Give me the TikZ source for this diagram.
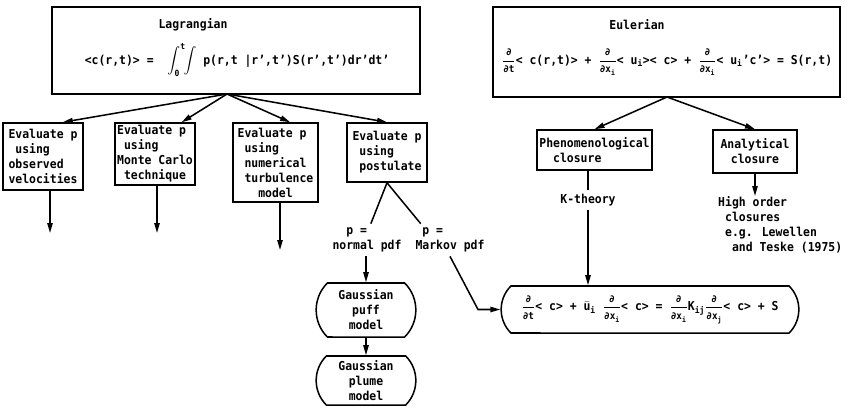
\documentclass[tikz,border=0pt]{standalone}
\usepackage{amsmath}
\usepackage{fontspec}
\setmainfont{DejaVu Sans Mono}[FakeStretch=0.93]
\usetikzlibrary{positioning, calc, arrows.meta, shapes.misc}

\newcommand{\dfr}[1]{$\dfrac{\text{\fontsize{8.5}{9}\selectfont ∂}}{\text{\fontsize{8.5}{9}\selectfont ∂#1}}$}
\newcommand{\sbs}[1]{$_{\text{#1}}$}

\begin{document}
\begin{tikzpicture}[x=0.03cm, y=-0.03cm,
    every node/.style={font=\bfseries\fontsize{10.5}{12.8}\selectfont},
    box/.style={draw, line width=1.3pt, inner sep=1pt},
    pill/.style={draw, line width=1.3pt, rounded rectangle, rounded rectangle arc length=90, inner sep=1pt},
    arr/.style={-{Triangle[length=3mm, width=1.6mm]}, line width=1.3pt},
    ln/.style={line width=1.3pt}]
    \useasboundingbox (0,0) rectangle (847,409);

    % 1. Hai hộp chính (Lagrangian, Eulerian)
    \node[box, minimum width=11.04cm, minimum height=2.61cm] (lag) at (236,50.5) {};
    \node (lagtitle) at (193,25) {Lagrangian};
    \node (lageq) at (237,60) {<c(r,t)> = \ $\displaystyle\int_{\text{0}}^{\text{t}}\!\!\int$ p(r,t~|r',t')S(r',t')dr'dt'};
    \coordinate (lagapex) at (227,94);

    \node[box, minimum width=10.41cm, minimum height=2.7cm] (eul) at (666.5,52) {};
    \node (eultitle) at (637,25) {Eulerian};
    \node (euleq) at (667,62) {\dfr{t}< c(r,t)> + \dfr{x\sbs{i}}< u\sbs{i}>< c> + \dfr{x\sbs{i}}< u\sbs{i}'c'> = S(r,t)};
    \coordinate (eulapex) at (667,97);

    % 2. Các hộp "Evaluate p"
    \node[box, align=left, minimum width=2.4cm, minimum height=2.01cm] (ev1) at (43,156.5)
        {Evaluate p\\\phantom{x}using\\observed\\velocities};
    \node[box, align=left, minimum width=2.4cm, minimum height=1.86cm] (ev2) at (155,154)
        {Evaluate p\\\phantom{x}using\\Monte Carlo\\\phantom{x}technique};
    \node[box, align=left, minimum width=2.55cm, minimum height=2.37cm] (ev3) at (275.5,162.5)
        {Evaluate p\\\phantom{x}using\\\phantom{x}numerical\\\phantom{x}turbulence\\\phantom{xxx}model};
    \node[box, align=left, minimum width=2.4cm, minimum height=1.77cm] (ev4) at (387,152.5)
        {Evaluate p\\\phantom{x}using\\\phantom{x}postulate};

    \foreach \b/\a in {ev1/60, ev2/50, ev3/70, ev4/north}
        \draw[arr] (lagapex) -- (\b.\a);

    % mũi tên xuống (không có đích)
    \coordinate (e1) at (50,233);
    \coordinate (e2) at (157,233);
    \coordinate (e3) at (280,250);
    \foreach \b/\e in {ev1/e1, ev2/e2, ev3/e3}
        \draw[arr] (\b.south -| \e) -- (\e);

    % 3. Nhánh postulate
    \node[align=left] (nrm) at (367,240) {\phantom{xx}p =\\normal pdf};
    \node[align=left] (mkv) at (450,240) {\phantom{x}p =\\Markov pdf};
    \draw[ln] (ev4.south) -- ($(nrm.north west)!0.55!(nrm.north east)$);
    \draw[ln] (ev4.south) -- ($(mkv.north west)!0.12!(mkv.north east)$);

    \node[pill, align=center, minimum width=3.06cm, minimum height=1.62cm] (puff) at (366,310)
        {Gaussian\\puff\\model};
    \node[pill, align=center, minimum width=3.06cm, minimum height=1.47cm] (plume) at (366,380.5)
        {Gaussian\\plume\\model};
    \draw[arr] (nrm.south -| puff) -- (puff.north);
    \draw[arr] (puff.south) -- (plume.north);

    % 4. Phương trình K-theory
    \node[pill, minimum width=9cm, minimum height=1.41cm] (eq) at (650,309.5)
        {\dfr{t}< c> + $\bar{\text{u}}$\sbs{i} \dfr{x\sbs{i}}< c> = \dfr{x\sbs{i}}K\sbs{ij}\dfr{x\sbs{j}}< c> + S};
    \coordinate (mbend) at (478,309.5);
    \draw[arr] (mkv.south) -- (mbend) -- (eq.west);

    % 5. Nhánh Eulerian
    \node[box, align=left, minimum width=3.45cm, minimum height=1.2cm] (phen) at (594.5,150)
        {Phenomenological\\\phantom{xx}closure};
    \node[box, align=center, minimum width=2.52cm, minimum height=1.29cm] (ana) at (755,151.5)
        {Analytical\\closure};
    \draw[arr] (eulapex) -- (phen.north);
    \draw[arr] (eulapex) -- (ana.north);

    \node (ktheo) at (588,200) {K-theory};
    \draw[ln] (phen.south -| ktheo) -- (ktheo.north);
    \draw[arr] (ktheo.south) -- (ktheo |- eq.north);

    \node[align=left, anchor=north west, inner sep=0pt] (hoc) at (718,196)
        {High order\\\phantom{x}closures\\\phantom{x}e.g. Lewellen\\\phantom{xx}and Teske (1975)};
    \draw[arr] (ana.south) -- (hoc.north -| ana.south);

\end{tikzpicture}
\end{document}
